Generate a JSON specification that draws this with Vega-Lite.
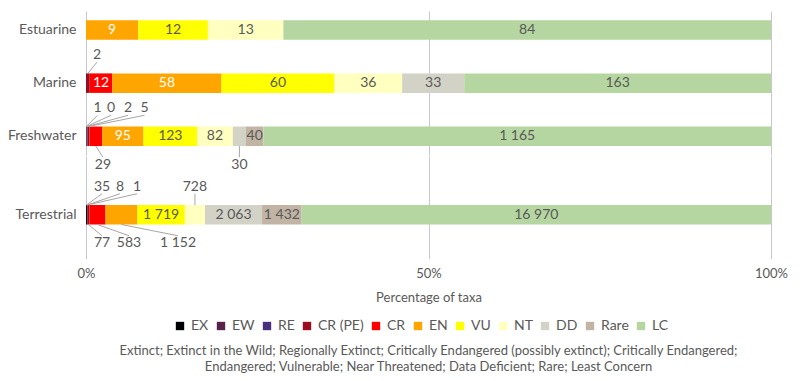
{
  "$schema": "https://vega.github.io/schema/vega-lite/v6.json",
  "padding": {"left": 7, "top": 11, "right": 5, "bottom": 5},
  "bounds": "flush",
  "spacing": 0,
  "config": {
    "font": "Lato",
    "view": {"stroke": null},
    "locale": {"number": {"decimal": ".", "thousands": " ", "grouping": [3], "currency": ["", ""]}},
    "axis": {"gridColor": "#c8c8c8", "gridWidth": 1, "labelColor": "#595959", "titleColor": "#595959"}
  },
  "datasets": {
    "taxa": [
      {"h": "Estuarine", "s": "EN", "n": 9, "pos": "in"},
      {"h": "Estuarine", "s": "VU", "n": 12, "pos": "in"},
      {"h": "Estuarine", "s": "NT", "n": 13, "pos": "in"},
      {"h": "Estuarine", "s": "LC", "n": 84, "pos": "in"},
      {"h": "Marine", "s": "CR (PE)", "n": 2, "pos": "above", "lx": 1.6},
      {"h": "Marine", "s": "CR", "n": 12, "pos": "in"},
      {"h": "Marine", "s": "EN", "n": 58, "pos": "in"},
      {"h": "Marine", "s": "VU", "n": 60, "pos": "in"},
      {"h": "Marine", "s": "NT", "n": 36, "pos": "in"},
      {"h": "Marine", "s": "DD", "n": 33, "pos": "in"},
      {"h": "Marine", "s": "LC", "n": 163, "pos": "in"},
      {"h": "Freshwater", "s": "EX", "n": 1, "pos": "above", "lx": 1.68},
      {"h": "Freshwater", "s": "EW", "n": 0, "pos": "above", "lx": 3.65},
      {"h": "Freshwater", "s": "RE", "n": 2, "pos": "above", "lx": 6.13},
      {"h": "Freshwater", "s": "CR (PE)", "n": 5, "pos": "above", "lx": 8.54},
      {"h": "Freshwater", "s": "CR", "n": 29, "pos": "below", "lx": 2.48},
      {"h": "Freshwater", "s": "EN", "n": 95, "pos": "in"},
      {"h": "Freshwater", "s": "VU", "n": 123, "pos": "in"},
      {"h": "Freshwater", "s": "NT", "n": 82, "pos": "in"},
      {"h": "Freshwater", "s": "DD", "n": 30, "pos": "below"},
      {"h": "Freshwater", "s": "Rare", "n": 40, "pos": "in"},
      {"h": "Freshwater", "s": "LC", "n": 1165, "pos": "in"},
      {"h": "Terrestrial", "s": "EX", "n": 35, "pos": "above", "lx": 2.34},
      {"h": "Terrestrial", "s": "EW", "n": 8, "pos": "above", "lx": 4.96},
      {"h": "Terrestrial", "s": "RE", "n": 1, "pos": "above", "lx": 7.45},
      {"h": "Terrestrial", "s": "CR (PE)", "n": 77, "pos": "below", "lx": 2.34},
      {"h": "Terrestrial", "s": "CR", "n": 583, "pos": "below", "lx": 6.28},
      {"h": "Terrestrial", "s": "EN", "n": 1152, "pos": "below", "lx": 13.43},
      {"h": "Terrestrial", "s": "VU", "n": 1719, "pos": "in"},
      {"h": "Terrestrial", "s": "NT", "n": 728, "pos": "above"},
      {"h": "Terrestrial", "s": "DD", "n": 2063, "pos": "in"},
      {"h": "Terrestrial", "s": "Rare", "n": 1432, "pos": "in"},
      {"h": "Terrestrial", "s": "LC", "n": 16970, "pos": "in"}
    ]
  },
  "title": {
    "text": ["Extinct; Extinct in the Wild; Regionally Extinct; Critically Endangered (possibly extinct); Critically Endangered;", "Endangered; Vulnerable; Near Threatened; Data Deficient; Rare; Least Concern"],
    "orient": "bottom",
    "anchor": "middle",
    "frame": "group",
    "fontSize": 13,
    "fontWeight": "normal",
    "color": "#595959",
    "lineHeight": 16,
    "offset": 12
  },
  "resolve": {"scale": {"y": "independent", "x": "independent"}, "axis": {"x": "independent", "y": "independent"}},
  "vconcat": [
    {
      "width": 685,
      "height": 144.3,
      "data": {"name": "taxa"},
      "transform": [
        {"filter": "datum.h !== 'Terrestrial'"},
        {"calculate": "indexof(['EX','EW','RE','CR (PE)','CR','EN','VU','NT','DD','Rare','LC'], datum.s)", "as": "o"},
        {"stack": "n", "groupby": ["h"], "sort": [{"field": "o"}], "offset": "normalize", "as": ["x0", "x1"]},
        {"calculate": "(datum.x0 + datum.x1) / 2", "as": "mid"},
        {"calculate": "isValid(datum.lx) ? datum.lx / 100 : datum.mid", "as": "tx"}
      ],
      "encoding": {
        "y": {"field": "h", "type": "nominal", "title": null,
          "scale": {"domain": ["Estuarine", "Marine", "Freshwater"], "paddingInner": 0.6331, "paddingOuter": 0.174},
          "axis": {"domain": false, "ticks": false, "labelPadding": 10, "labelFontSize": 14, "labelColor": "#595959"}}
      },
      "layer": [
        {
          "mark": {"type": "bar"},
          "encoding": {
            "x": {"field": "x0", "type": "quantitative", "scale": {"domain": [0, 1]},
              "axis": {"values": [0, 0.5, 1], "grid": true, "labels": false, "ticks": false, "domain": false, "title": null}},
            "x2": {"field": "x1"},
            "color": {"field": "s", "type": "nominal",
              "scale": {"domain": ["EX", "EW", "RE", "CR (PE)", "CR", "EN", "VU", "NT", "DD", "Rare", "LC"],
                "range": ["#000000", "#5a2248", "#48307a", "#9b0c1e", "#ff0000", "#ffa500", "#ffff00", "#ffffc0", "#d2d2c6", "#c2b4a4", "#b5d6a0"]},
              "legend": {"orient": "none", "legendX": 87, "legendY": 308, "direction": "horizontal", "columns": 11, "title": null,
                "symbolType": "square", "symbolSize": 70, "symbolStrokeWidth": 0, "labelFontSize": 14, "labelColor": "#595959",
                "labelOffset": 4, "columnPadding": 5}}
          }
        },
        {
          "transform": [{"filter": "datum.pos === 'in'"}],
          "mark": {"type": "text", "fontSize": 14, "baseline": "middle"},
          "encoding": {
            "x": {"field": "mid", "type": "quantitative"},
            "text": {"field": "n", "type": "quantitative", "format": ",d"},
            "color": {"condition": {"test": "datum.s === 'CR' || datum.s === 'EN'", "value": "#ffffff"}, "value": "#595959"}
          }
        },
        {
          "transform": [{"filter": "datum.pos === 'above'"}],
          "mark": {"type": "rule", "color": "#a6a6a6", "strokeWidth": 1, "yOffset": -9.75, "y2Offset": -21},
          "encoding": {
            "x": {"field": "mid", "type": "quantitative"},
            "x2": {"field": "tx"},
            "y2": {"field": "h"}
          }
        },
        {
          "transform": [{"filter": "datum.pos === 'below'"}],
          "mark": {"type": "rule", "color": "#a6a6a6", "strokeWidth": 1, "yOffset": 9.75, "y2Offset": 21},
          "encoding": {
            "x": {"field": "mid", "type": "quantitative"},
            "x2": {"field": "tx"},
            "y2": {"field": "h"}
          }
        },
        {
          "transform": [{"filter": "datum.pos === 'above'"}],
          "mark": {"type": "text", "fontSize": 14, "baseline": "middle", "dy": -28, "color": "#595959"},
          "encoding": {
            "x": {"field": "tx", "type": "quantitative"},
            "text": {"field": "n", "type": "quantitative", "format": ",d"}
          }
        },
        {
          "transform": [{"filter": "datum.pos === 'below'"}],
          "mark": {"type": "text", "fontSize": 14, "baseline": "middle", "dy": 28.5, "color": "#595959"},
          "encoding": {
            "x": {"field": "tx", "type": "quantitative"},
            "text": {"field": "n", "type": "quantitative", "format": ",d"}
          }
        }
      ]
    },
    {
      "width": 685,
      "height": 102.7,
      "data": {"name": "taxa"},
      "transform": [
        {"filter": "datum.h === 'Terrestrial'"},
        {"calculate": "indexof(['EX','EW','RE','CR (PE)','CR','EN','VU','NT','DD','Rare','LC'], datum.s)", "as": "o"},
        {"stack": "n", "groupby": ["h"], "sort": [{"field": "o"}], "offset": "normalize", "as": ["x0", "x1"]},
        {"calculate": "(datum.x0 + datum.x1) / 2", "as": "mid"},
        {"calculate": "isValid(datum.lx) ? datum.lx / 100 : datum.mid", "as": "tx"}
      ],
      "encoding": {
        "y": {"field": "h", "type": "nominal", "title": null,
          "scale": {"domain": ["Terrestrial"], "paddingInner": 0.6331, "paddingOuter": 0.7827, "align": 0.589},
          "axis": {"domain": false, "ticks": false, "labelPadding": 10, "labelFontSize": 14, "labelColor": "#595959"}}
      },
      "layer": [
        {
          "mark": {"type": "bar"},
          "encoding": {
            "x": {"field": "x0", "type": "quantitative", "scale": {"domain": [0, 1]},
              "axis": {"values": [0, 0.5, 1], "grid": true, "format": ".0%", "ticks": false, "domain": false, "labelFlush": false,
                "labelPadding": 9, "labelFontSize": 13,
                "title": "Percentage of taxa", "titleFontWeight": "normal", "titleFontSize": 13, "titlePadding": 11}},
            "x2": {"field": "x1"},
            "color": {"field": "s", "type": "nominal"}
          }
        },
        {
          "transform": [{"filter": "datum.pos === 'in'"}],
          "mark": {"type": "text", "fontSize": 14, "baseline": "middle"},
          "encoding": {
            "x": {"field": "mid", "type": "quantitative"},
            "text": {"field": "n", "type": "quantitative", "format": ",d"},
            "color": {"condition": {"test": "datum.s === 'CR' || datum.s === 'EN'", "value": "#ffffff"}, "value": "#595959"}
          }
        },
        {
          "transform": [{"filter": "datum.pos === 'above'"}],
          "mark": {"type": "rule", "color": "#a6a6a6", "strokeWidth": 1, "yOffset": -9.75, "y2Offset": -21},
          "encoding": {
            "x": {"field": "mid", "type": "quantitative"},
            "x2": {"field": "tx"},
            "y2": {"field": "h"}
          }
        },
        {
          "transform": [{"filter": "datum.pos === 'below'"}],
          "mark": {"type": "rule", "color": "#a6a6a6", "strokeWidth": 1, "yOffset": 9.75, "y2Offset": 21},
          "encoding": {
            "x": {"field": "mid", "type": "quantitative"},
            "x2": {"field": "tx"},
            "y2": {"field": "h"}
          }
        },
        {
          "transform": [{"filter": "datum.pos === 'above'"}],
          "mark": {"type": "text", "fontSize": 14, "baseline": "middle", "dy": -28, "color": "#595959"},
          "encoding": {
            "x": {"field": "tx", "type": "quantitative"},
            "text": {"field": "n", "type": "quantitative", "format": ",d"}
          }
        },
        {
          "transform": [{"filter": "datum.pos === 'below'"}],
          "mark": {"type": "text", "fontSize": 14, "baseline": "middle", "dy": 28.5, "color": "#595959"},
          "encoding": {
            "x": {"field": "tx", "type": "quantitative"},
            "text": {"field": "n", "type": "quantitative", "format": ",d"}
          }
        }
      ]
    }
  ]
}
